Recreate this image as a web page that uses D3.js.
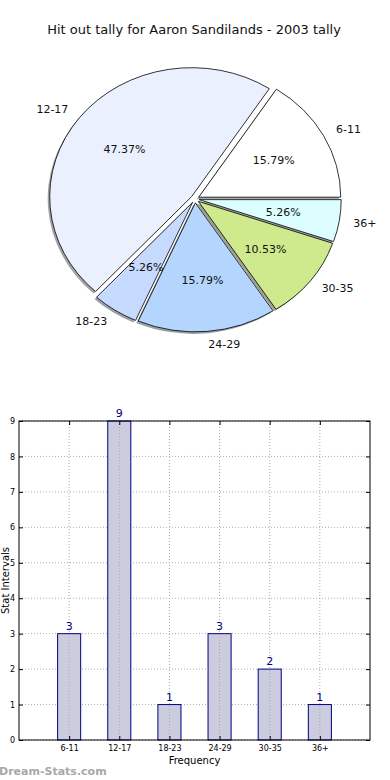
<!DOCTYPE html>
<html>
<head>
<meta charset="utf-8">
<script src="https://cdn.jsdelivr.net/npm/d3@7"></script>
<style>
  body { margin: 0; background: #fff; }
  text { font-family: "DejaVu Sans", sans-serif; }
</style>
</head>
<body>
<div id="chart"></div>
<script>
var w = 390;
var h = 780;

// data
var categories = ["6-11", "12-17", "18-23", "24-29", "30-35", "36+"];
var tally = [3, 9, 1, 3, 2, 1];
var sliceColors = ["#ffffff", "#eaf0fe", "#c6d9fe", "#b4d6fe", "#cfea8c", "#dcfefe"];
var yTicks = [0, 1, 2, 3, 4, 5, 6, 7, 8, 9];

var svg = d3.select("#chart")
  .append("svg")
  .attr("width", w)
  .attr("height", h);

svg.append("rect").attr("width", w).attr("height", h).attr("fill", "#fff");

svg.append("text")
  .attr("x", 194)
  .attr("y", 34)
  .attr("text-anchor", "middle")
  .style("font-size", "13px")
  .attr("fill", "#111")
  .text("Hit out tally for Aaron Sandilands - 2003 tally");

//pie (matplotlib style: elliptical, counterclockwise from east)
var cx = 195, cy = 199, rx = 142, ry = 129, explode = 0.03;
var total = d3.sum(tally);

var pie = d3.pie()
  .sort(null)
  .startAngle(Math.PI / 2)
  .endAngle(Math.PI / 2 - 2 * Math.PI);

var arcs = pie(tally).map(function(d, i) {
  var m = (d.startAngle + d.endAngle) / 2;
  d.ux = Math.sin(m);
  d.uy = -Math.cos(m);
  d.cat = categories[i];
  d.color = sliceColors[i];
  return d;
});

var arc = d3.arc().innerRadius(0).outerRadius(1);

// shadows first
svg.append("g").selectAll("path.shadow")
  .data(arcs)
  .enter()
  .append("path")
  .attr("class", "shadow")
  .attr("transform", function(d) {
    return "translate(" + (cx + d.ux * explode * rx - 2) + "," + (cy + d.uy * explode * ry + 2) + ") scale(" + rx + "," + ry + ")";
  })
  .attr("d", arc)
  .attr("fill", function(d) {
    var c = d3.rgb(d.color);
    return d3.rgb(c.r * 0.3, c.g * 0.3, c.b * 0.3);
  })
  .attr("fill-opacity", 0.5);

svg.append("g").selectAll("path.wedge")
  .data(arcs)
  .enter()
  .append("path")
  .attr("class", "wedge")
  .attr("transform", function(d) {
    return "translate(" + (cx + d.ux * explode * rx) + "," + (cy + d.uy * explode * ry) + ") scale(" + rx + "," + ry + ")";
  })
  .attr("d", arc)
  .attr("fill", function(d) { return d.color; })
  .attr("stroke", "#000")
  .attr("stroke-width", 0.8)
  .attr("vector-effect", "non-scaling-stroke");

// labels at 1.1, percentages at 0.6
svg.append("g").selectAll("text")
  .data(arcs)
  .enter()
  .append("text")
  .attr("x", function(d) { return cx + d.ux * explode * rx + d.ux * 1.1 * rx; })
  .attr("y", function(d) { return cy + d.uy * explode * ry + d.uy * 1.1 * ry; })
  .attr("dy", "0.35em")
  .attr("text-anchor", function(d) { return d.ux > 0 ? "start" : "end"; })
  .style("font-size", "11px")
  .attr("fill", "#111")
  .text(function(d) { return d.cat; });

svg.append("g").selectAll("text")
  .data(arcs)
  .enter()
  .append("text")
  .attr("x", function(d) { return cx + d.ux * explode * rx + d.ux * 0.6 * rx; })
  .attr("y", function(d) { return cy + d.uy * explode * ry + d.uy * 0.6 * ry; })
  .attr("dy", "0.35em")
  .attr("text-anchor", "middle")
  .style("font-size", "11px")
  .attr("fill", "#111")
  .text(function(d) { return (d.value / total * 100).toFixed(2) + "%"; });

//bar chart
var plotL = 19, plotR = 370, plotT = 421, plotB = 740;
var x = d3.scaleLinear().domain([-1, 6]).range([plotL, plotR]);
var y = d3.scaleLinear().domain([0, 9]).range([plotB, plotT]);
var barW = 0.46;

var g = svg.append("g");

// grid
g.selectAll("line.gy")
  .data(yTicks)
  .enter()
  .append("line")
  .attr("x1", plotL).attr("x2", plotR)
  .attr("y1", function(d) { return y(d); })
  .attr("y2", function(d) { return y(d); })
  .style("stroke", "#b0b0b0")
  .style("stroke-width", 1)
  .style("stroke-dasharray", "1,2");

// bars
g.selectAll("rect.bar")
  .data(tally)
  .enter()
  .append("rect")
  .attr("x", function(d, i) { return x(i - barW / 2); })
  .attr("y", function(d) { return y(d); })
  .attr("width", function() { return x(barW) - x(0); })
  .attr("height", function(d) { return y(0) - y(d); })
  .attr("fill", "#ccccdf")
  .attr("stroke", "#000080")
  .attr("stroke-width", 1);

// vertical grid shows through the bars
g.selectAll("line.gx")
  .data(categories)
  .enter()
  .append("line")
  .attr("x1", function(d, i) { return x(i); })
  .attr("x2", function(d, i) { return x(i); })
  .attr("y1", plotT).attr("y2", plotB)
  .style("stroke", "#a8a8a8")
  .style("stroke-width", 1)
  .style("stroke-dasharray", "1,2");

g.selectAll("text.val")
  .data(tally)
  .enter()
  .append("text")
  .attr("x", function(d, i) { return x(i); })
  .attr("y", function(d) { return y(d) - 4; })
  .attr("text-anchor", "middle")
  .style("font-size", "11px")
  .attr("fill", "#000080")
  .text(function(d) { return d; });

// axes
var yAxis = d3.axisLeft(y).tickValues(yTicks).tickSizeInner(-4).tickSizeOuter(0).tickPadding(4);
var yAxisR = d3.axisRight(y).tickValues(yTicks).tickSizeInner(-4).tickSizeOuter(0).tickFormat("");
var xAxis = d3.axisBottom(x).tickValues(d3.range(categories.length))
  .tickFormat(function(i) { return categories[i]; })
  .tickSizeInner(-4).tickSizeOuter(0).tickPadding(5);
var xAxisT = d3.axisTop(x).tickValues(d3.range(categories.length)).tickSizeInner(-4).tickSizeOuter(0).tickFormat("");

function styleAxis(sel) {
  sel.select(".domain").remove();
  sel.selectAll("line").attr("stroke", "#000");
  sel.selectAll("text").style("font-size", "8px").style("font-family", "DejaVu Sans, sans-serif").attr("fill", "#000");
}

g.append("g").attr("transform", "translate(" + plotL + ",0)").call(yAxis).call(styleAxis);
g.append("g").attr("transform", "translate(" + plotR + ",0)").call(yAxisR).call(styleAxis);
g.append("g").attr("transform", "translate(0," + plotB + ")").call(xAxis).call(styleAxis);
g.append("g").attr("transform", "translate(0," + plotT + ")").call(xAxisT).call(styleAxis);

g.append("rect")
  .attr("x", plotL).attr("y", plotT)
  .attr("width", plotR - plotL).attr("height", plotB - plotT)
  .attr("fill", "none")
  .attr("stroke", "#000")
  .attr("stroke-width", 1);

svg.append("text")
  .attr("x", (plotL + plotR) / 2)
  .attr("y", 764)
  .attr("text-anchor", "middle")
  .style("font-size", "10px")
  .attr("fill", "#000")
  .text("Frequency");

svg.append("text")
  .attr("transform", "translate(9," + ((plotT + plotB) / 2) + ") rotate(-90)")
  .attr("text-anchor", "middle")
  .style("font-size", "10px")
  .attr("fill", "#000")
  .text("Stat Intervals");

svg.append("text")
  .attr("x", -1)
  .attr("y", 775)
  .style("font-size", "11px")
  .style("font-weight", "bold")
  .attr("fill", "#a8a8a8")
  .text("Dream-Stats.com");
</script>
</body>
</html>
